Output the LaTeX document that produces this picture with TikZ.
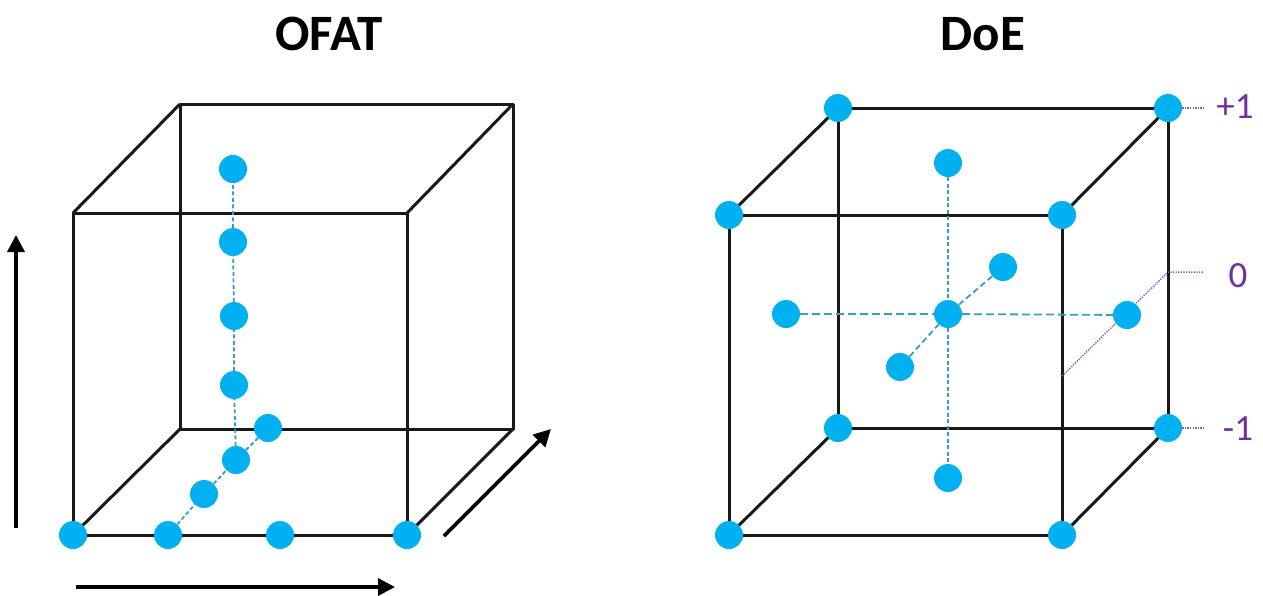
\documentclass[tikz,border=0pt]{standalone}
\usepackage{fontspec}
\setmainfont{Carlito}
\usepackage{xcolor}
\usetikzlibrary{arrows.meta}

\definecolor{dotblue}{HTML}{00B0F0}
\definecolor{dashblue}{HTML}{3A9CC6}
\definecolor{levelpurple}{HTML}{7030A0}

\tikzset{
  ball/.style={circle,fill=dotblue,inner sep=0pt,minimum size=28pt},
  cubeline/.style={line width=3pt,black!90},
  dashline/.style={line width=1.8pt,dashblue,dash pattern=on 4pt off 2.5pt},
  longdash/.style={line width=1.8pt,dashblue,dash pattern=on 8pt off 4pt},
  levelline/.style={line width=1.5pt,levelpurple!80,dash pattern=on 1.3pt off 1.3pt},
  axisarrow/.style={line width=3.6pt,-{Triangle[length=17pt,width=17pt]}},
  title/.style={font=\fontsize{51}{60}\selectfont\bfseries,anchor=base,inner sep=0pt},
  level/.style={font=\fontsize{37}{44}\selectfont,text=levelpurple,inner sep=0pt}
}

\begin{document}
\begin{tikzpicture}[x=1pt,y=-1pt,line join=round]
  \useasboundingbox (0,0) rectangle (1263,595);

  % titles
  \node[title] (ofat) at (329,50) {OFAT};
  \node[title] (doe) at (983,50) {DoE};

  % OFAT cube
  \coordinate (OF1) at (73,535);
  \coordinate (OF2) at (407,535);
  \coordinate (OF3) at (407,213);
  \coordinate (OF4) at (73,213);
  \coordinate (OB1) at (180,429);
  \coordinate (OB2) at (513,429);
  \coordinate (OB3) at (513,104);
  \coordinate (OB4) at (180,104);
  \draw[cubeline] (OF1) -- (OF2) -- (OF3) -- (OF4) -- cycle;
  \draw[cubeline] (OB1) -- (OB2) -- (OB3) -- (OB4) -- cycle;
  \draw[cubeline] (OF1) -- (OB1) (OF2) -- (OB2) (OF3) -- (OB3) (OF4) -- (OB4);

  \node[ball] (x0) at (OF1) {};
  \node[ball] (x1) at (168,535) {};
  \node[ball] (x2) at (280,535) {};
  \node[ball] (x3) at (OF2) {};
  \node[ball] (z1) at (204,494) {};
  \node[ball] (z2) at (236,460) {};
  \node[ball] (z3) at (268,428) {};
  \node[ball] (y1) at (234,385) {};
  \node[ball] (y2) at (234,316) {};
  \node[ball] (y3) at (233,242) {};
  \node[ball] (y4) at (233,169) {};
  \draw[dashline] (x1) -- (z1) -- (z2) -- (z3);
  \draw[dashline] (z2) -- (y1) -- (y2) -- (y3) -- (y4);

  % factor arrows
  \coordinate (va1) at (16,528);
  \coordinate (va2) at (16,235);
  \coordinate (ha1) at (76,587);
  \coordinate (ha2) at (395,587);
  \coordinate (da1) at (444,536);
  \coordinate (da2) at (551,429);
  \draw[axisarrow] (va1) -- (va2);
  \draw[axisarrow] (ha1) -- (ha2);
  \draw[axisarrow] (da1) -- (da2);

  % DoE cube
  \coordinate (DF1) at (729,535);
  \coordinate (DF2) at (1062,535);
  \coordinate (DF3) at (1062,215);
  \coordinate (DF4) at (729,215);
  \coordinate (DB1) at (838,428);
  \coordinate (DB2) at (1168,428);
  \coordinate (DB3) at (1168,108);
  \coordinate (DB4) at (838,108);
  \draw[cubeline] (DF1) -- (DF2) -- (DF3) -- (DF4) -- cycle;
  \draw[cubeline] (DB1) -- (DB2) -- (DB3) -- (DB4) -- cycle;
  \draw[cubeline] (DF1) -- (DB1) (DF2) -- (DB2) (DF3) -- (DB3) (DF4) -- (DB4);

  % level marks
  \coordinate (MF) at (1062,376);
  \coordinate (MB) at (1168,272);
  \coordinate (t1) at (1204,108);
  \coordinate (t0) at (1204,272);
  \coordinate (tm) at (1204,428);
  \draw[levelline] (MF) -- (MB) -- (t0);

  \node[ball] (d1) at (DF1) {};
  \node[ball] (d2) at (DF2) {};
  \node[ball] (d3) at (DF3) {};
  \node[ball] (d4) at (DF4) {};
  \node[ball] (d5) at (DB1) {};
  \node[ball] (d6) at (DB2) {};
  \node[ball] (d7) at (DB3) {};
  \node[ball] (d8) at (DB4) {};
  \node[ball] (ctr) at (948,314) {};
  \node[ball] (up) at (948,163) {};
  \node[ball] (dn) at (948,478) {};
  \node[ball] (lf) at (786,314) {};
  \node[ball] (rt) at (1127,315) {};
  \node[ball] (fr) at (900,367) {};
  \node[ball] (bk) at (1003,267) {};
  \draw[dashline] (up) -- (ctr) -- (dn);
  \draw[longdash] (lf) -- (ctr) -- (rt);
  \draw[longdash,dash pattern=on 6pt off 3.5pt] (fr) -- (ctr) -- (bk);

  \draw[levelline] (d7) -- (t1);
  \draw[levelline] (d6) -- (tm);
  \node[level] (lp) at (1235,107) {+1};
  \node[level] (lz) at (1238,276) {0};
  \node[level] (lm) at (1238,429) {-1};
\end{tikzpicture}
\end{document}
